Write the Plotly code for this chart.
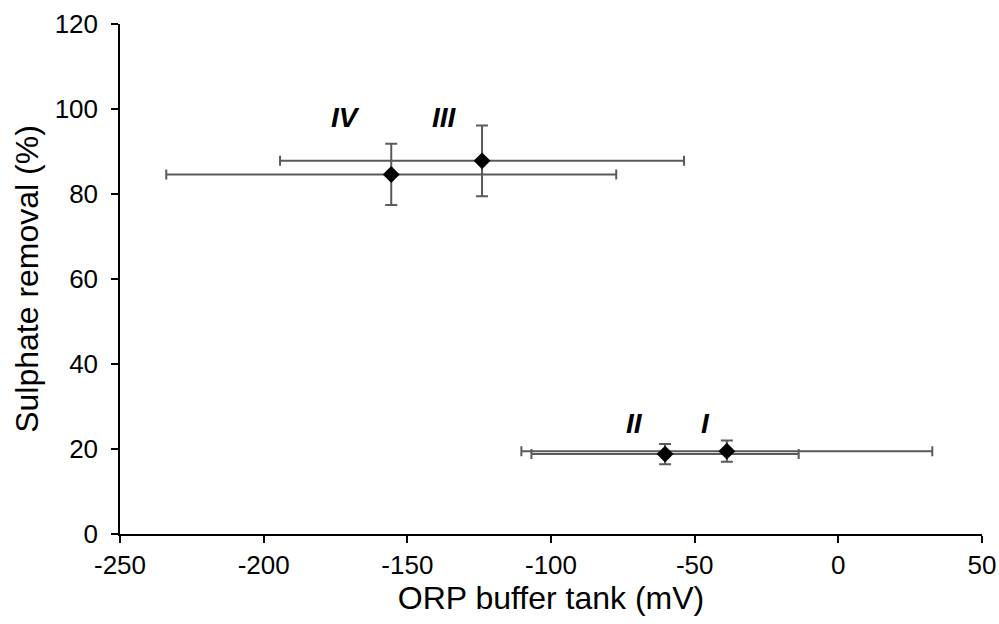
import plotly.graph_objects as go

# Operating periods and their mean values with standard deviations
periods = ["I", "II", "III", "IV"]
orp_mean = [-38.8, -60.3, -124.0, -155.6]
orp_sd = [71.5, 46.5, 70.3, 78.3]
removal_mean = [19.5, 18.8, 87.8, 84.6]
removal_sd = [2.5, 2.4, 8.3, 7.2]

# Label anchor positions for the period names
label_x = [-46.4, -70.8, -137.0, -171.5]
label_y = [25.9, 25.9, 97.9, 97.9]

x_ticks = [-250, -200, -150, -100, -50, 0, 50]
y_ticks = [0, 20, 40, 60, 80, 100, 120]

err_color = "#5a5a5a"
font_family = "Liberation Sans, Arial, sans-serif"

fig = go.Figure()
fig.add_trace(go.Scatter(
    x=orp_mean,
    y=removal_mean,
    mode="markers",
    marker=dict(symbol="diamond", size=13, color="black"),
    error_x=dict(type="data", array=orp_sd, visible=True,
                 color=err_color, thickness=2, width=5),
    error_y=dict(type="data", array=removal_sd, visible=True,
                 color=err_color, thickness=2, width=6),
    showlegend=False,
    hoverinfo="skip",
))

for name, lx, ly in zip(periods, label_x, label_y):
    fig.add_annotation(
        x=lx, y=ly, text=f"<b><i>{name}</i></b>",
        showarrow=False, xanchor="center", yanchor="middle",
        font=dict(family=font_family, size=28, color="black"),
    )

axis_common = dict(
    showline=True, linecolor="black", linewidth=1.5,
    ticks="outside", ticklen=7, tickwidth=1.5, tickcolor="black",
    showgrid=False, zeroline=False,
    tickfont=dict(family=font_family, size=26, color="black"),
)

fig.update_layout(
    width=999, height=624,
    margin=dict(l=120, r=17, t=24, b=90),
    paper_bgcolor="white", plot_bgcolor="white",
    xaxis=dict(
        range=[-250, 50], tickvals=x_ticks, ticktext=[str(v) for v in x_ticks],
        title=dict(text="ORP buffer tank (mV)", standoff=6,
                   font=dict(family=font_family, size=32, color="black")),
        automargin=False,
        **axis_common,
    ),
    yaxis=dict(
        range=[0, 120], tickvals=y_ticks, ticktext=[str(v) for v in y_ticks],
        title=dict(text="Sulphate removal (%)", standoff=6,
                   font=dict(family=font_family, size=32, color="black")),
        automargin=False, ticklabelstandoff=8,
        **axis_common,
    ),
)

fig.write_html("out.html")
